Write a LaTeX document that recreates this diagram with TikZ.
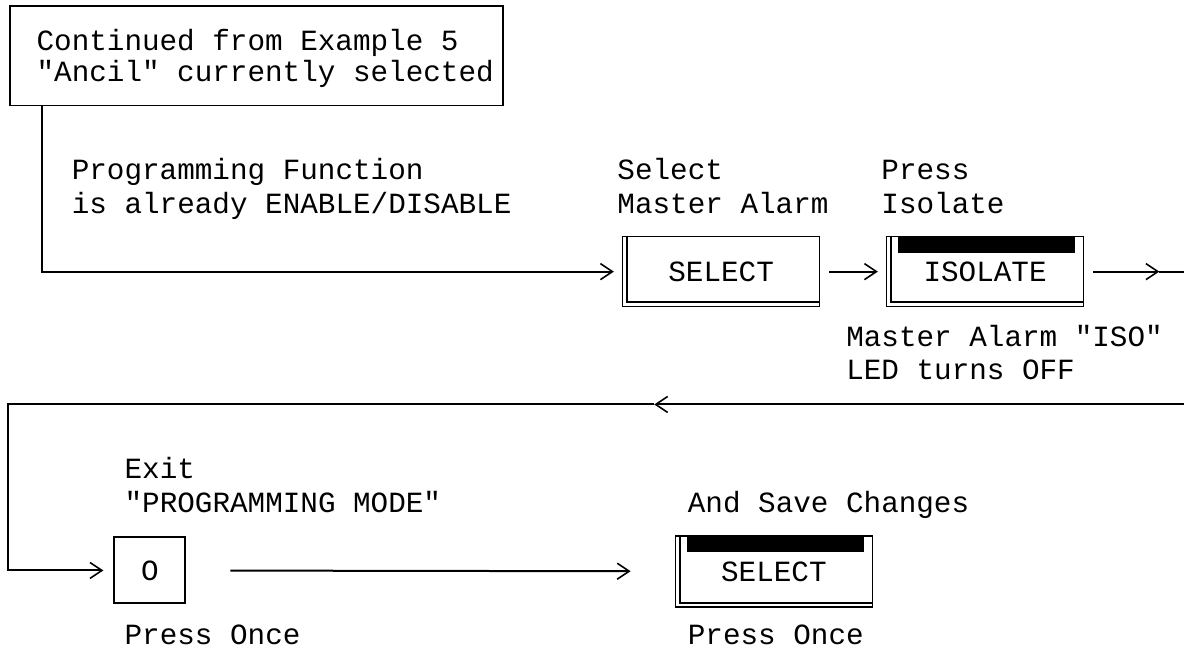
\documentclass[tikz,border=0pt]{standalone}
\usepackage{fontspec}
\setmonofont{Liberation Mono}
\usetikzlibrary{arrows.meta}

\tikzset{
  lbl/.style={anchor=base west, inner sep=0pt},
  keybox/.style={draw, line width=1.5pt, minimum width=197pt, minimum height=70pt, inner sep=0pt},
  btnbox/.style={draw, line width=2pt, minimum width=71pt, minimum height=66pt, inner sep=0pt},
  wire/.style={line width=2pt},
  flow/.style={wire, -{Straight Barb[length=12pt,width=16pt,line width=1.6pt]}},
}

\begin{document}
\begin{tikzpicture}[x=17.6pt, y=-33.2pt, font=\ttfamily\fontsize{29.3}{33.2}\selectfont]
\useasboundingbox (-0.568,-0.181) rectangle (66.70,19.40);

% top box
\node[draw, line width=1.6pt, minimum width=492.8pt, minimum height=99.6pt] (start) at (14,1.5) {};
\node[lbl] (cont) at (1.5,1.34) {Continued from Example 5};
\node[lbl] (ancil) at (1.5,2.26) {"Ancil" currently selected};

% upper row
\node[lbl] (prog1) at (3.5,5.24) {Programming Function};
\node[lbl] (prog2) at (3.5,6.24) {is already ENABLE/DISABLE};
\node[lbl] (selt1) at (34.5,5.24) {Select};
\node[lbl] (selt2) at (34.5,6.24) {Master Alarm};
\node[lbl] (isot1) at (49.5,5.24) {Press};
\node[lbl] (isot2) at (49.5,6.24) {Isolate};
\node[lbl] (led1) at (47.5,10.24) {Master Alarm "ISO"};
\node[lbl] (led2) at (47.5,11.24) {LED turns OFF};

\node[keybox] (sel) at (40.4,8.0) {SELECT};
\draw[line width=2.2pt] ([xshift=5pt]sel.north west) |- ([yshift=5pt]sel.south east);
\node[keybox] (iso) at (55.4,8.0) {ISOLATE};
\draw[line width=2.2pt] ([xshift=5pt]iso.north west) |- ([yshift=5pt]iso.south east);
\fill ([xshift=12pt]iso.north west) rectangle ([xshift=-9pt,yshift=-17pt]iso.north east);

% lower row
\node[lbl] (exit1) at (6.5,14.24) {Exit};
\node[lbl] (exit2) at (6.5,15.24) {"PROGRAMMING MODE"};
\node[lbl] (save1) at (38.5,15.24) {And Save Changes};
\node[lbl] (once1) at (6.5,19.24) {Press Once};
\node[lbl] (once2) at (38.5,19.24) {Press Once};

\node[btnbox] (okey) at (7.95,17) {O};
\node[keybox, minimum height=71pt] (save) at (43.4,17.03) {SELECT};
\draw[line width=2.2pt] ([xshift=5pt]save.north west) |- ([yshift=5pt]save.south east);
\fill ([xshift=12pt]save.north west) rectangle ([xshift=-9pt,yshift=-17pt]save.north east);

% connectors
\coordinate (out) at (65.3,8);
\coordinate (edge1) at (67,8);
\coordinate (edge2) at (67,12);
\coordinate (back) at (36.6,12);
\draw[flow, shorten >=8pt] ([xshift=33pt]start.south west) |- (sel.west);
\draw[flow, shorten <=9pt, shorten >=8pt] (sel) -- (iso);
\draw[flow, shorten <=9pt] (iso) -- (out);
\draw[wire] (out) -- (edge1);
\draw[flow] (edge2) -- (back);
\draw[flow, shorten >=10pt] (back) -- (-0.11,12) |- (okey.west);
\draw[flow, shorten <=44pt, shorten >=44pt] (okey) -- (save);
\end{tikzpicture}
\end{document}
